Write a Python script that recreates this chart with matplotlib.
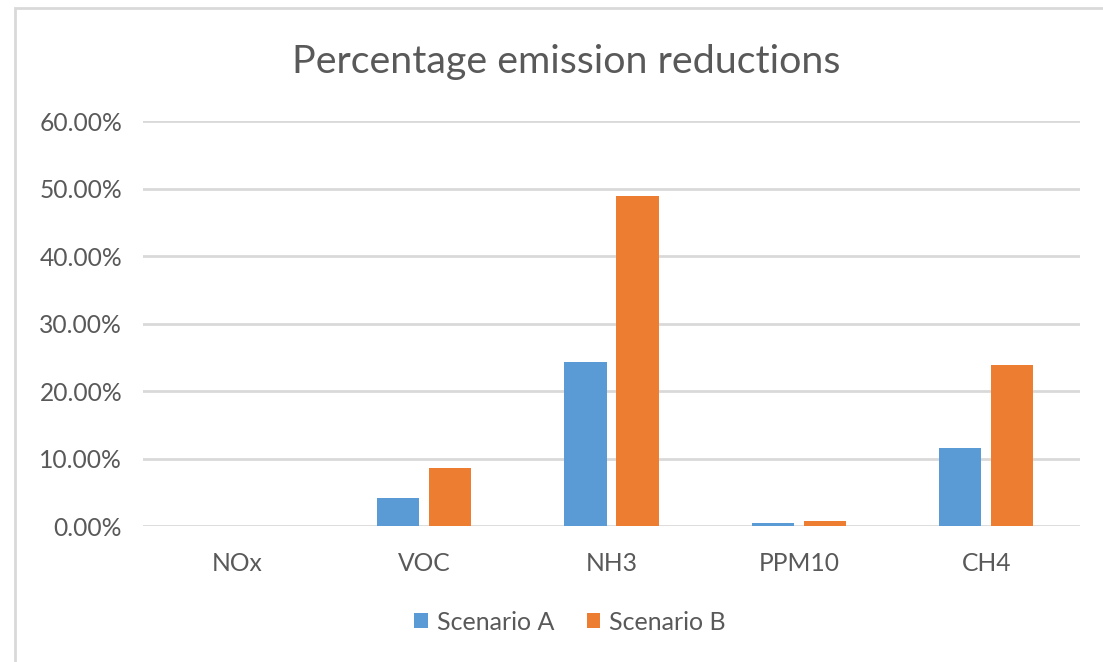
import matplotlib
matplotlib.use("Agg")
import matplotlib.pyplot as plt
from matplotlib.patches import Rectangle
from matplotlib.ticker import FuncFormatter
import numpy as np

categories = ["NOx", "VOC", "NH3", "PPM10", "CH4"]
scenario_a = [0.0, 0.042, 0.243, 0.0045, 0.116]
scenario_b = [0.0, 0.086, 0.489, 0.008, 0.238]
series_names = ["Scenario A", "Scenario B"]
yticks = [0.0, 0.1, 0.2, 0.3, 0.4, 0.5, 0.6]

plt.rcParams['font.family'] = ['Lato', 'DejaVu Sans']
W, H = 1103, 662
fig = plt.figure(figsize=(W / 100, H / 100), dpi=100)
fig.patch.set_facecolor("white")

# chart frame
fig.patches.append(Rectangle((15 / W, -0.1), 1.2, 1 - 8 / H + 0.1, transform=fig.transFigure,
                             fill=False, edgecolor="#d9d9d9", linewidth=2))

ax = fig.add_axes([143 / W, 1 - 526 / H, (1080 - 143) / W, (526 - 121) / H])
x = np.arange(len(categories))
bw = 0.225
gap = 0.053
colors = ["#5B9BD5", "#ED7D31"]
ax.bar(x - (bw + gap) / 2, scenario_a, bw, color=colors[0], label=series_names[0], zorder=3)
ax.bar(x + (bw + gap) / 2, scenario_b, bw, color=colors[1], label=series_names[1], zorder=3)

ax.set_xlim(-0.5, len(categories) - 0.5)
ax.set_ylim(0, 0.6)
ax.set_yticks(yticks)
ax.yaxis.set_major_formatter(FuncFormatter(lambda v, p: f"{v * 100:.2f}%"))
ax.set_xticks(x)
ax.set_xticklabels(categories)
ax.grid(axis="y", color="#d9d9d9", linewidth=2, zorder=0)
for s in ax.spines.values():
    s.set_visible(False)
ax.tick_params(axis="both", length=0, labelsize=17.7, labelcolor="#595959")
ax.tick_params(axis="y", pad=15)
ax.tick_params(axis="x", pad=19)

fig.text(566 / W, 1 - 62 / H, "Percentage emission reductions", ha="center", va="center",
         fontsize=28.4, color="#595959")

leg = fig.legend(loc="center", bbox_to_anchor=(570 / W, 1 - 622 / H), ncol=2, frameon=False,
                 fontsize=18, handlelength=0.55, handleheight=0.55, handletextpad=0.35,
                 columnspacing=1.3, labelcolor="#595959")

fig.savefig("out.png", dpi=100)
